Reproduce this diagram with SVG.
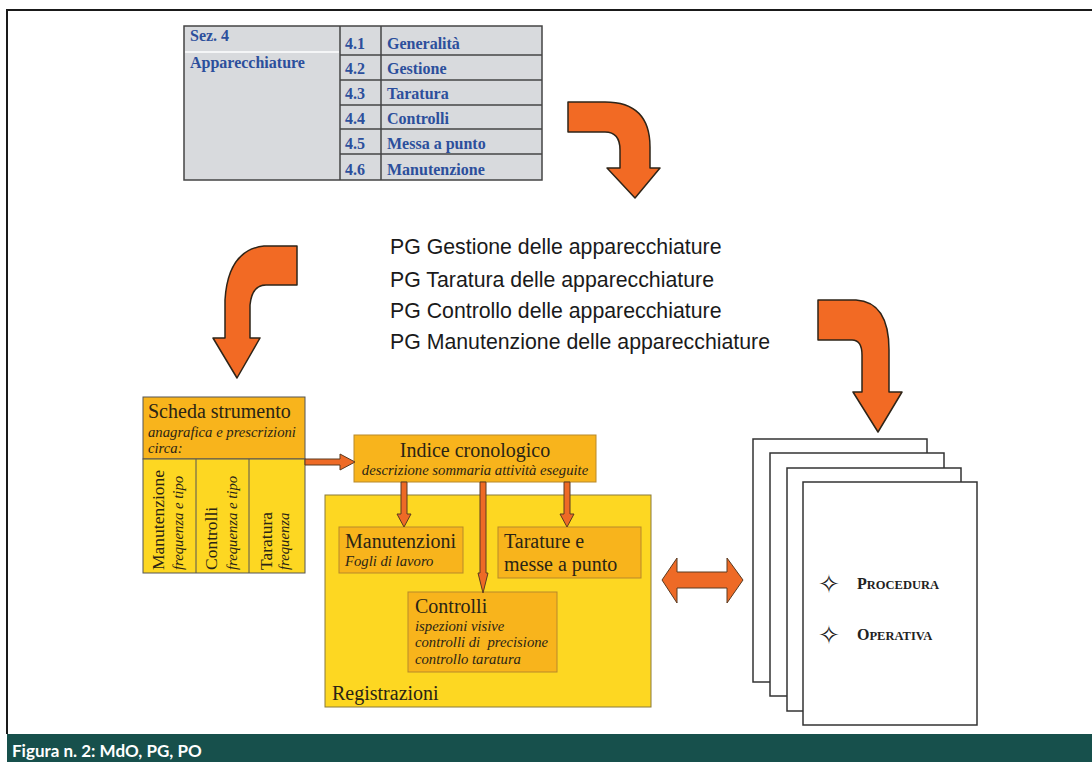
<svg xmlns="http://www.w3.org/2000/svg" width="1092" height="762" viewBox="0 0 1092 762">
<style>
.tbl{font-family:"Liberation Serif",serif;font-weight:bold;font-size:16px;fill:#2c4f9c}
.pg{font-family:"Liberation Sans",Arial,sans-serif;font-size:21.3px;fill:#1a1a1a}
.t20{font-family:"Liberation Serif",serif;font-size:20px;fill:#2a2415}
.t17{font-family:"Liberation Serif",serif;font-size:17.5px;fill:#2a2415}
.it{font-family:"Liberation Serif",serif;font-style:italic;font-size:14.7px;fill:#2a2415}
.box{fill:#f8b41c;stroke:#b8892a;stroke-width:1}
.ybox{fill:#fdd722;stroke:#8a7a3a;stroke-width:1}
.arr{fill:#f26a24;stroke:#2e2418;stroke-width:1.5;stroke-linejoin:round}
.sarr{fill:#ee6a26;stroke:#5a3a20;stroke-width:1}
.page{fill:#fff;stroke:#333;stroke-width:1.5}
.sc{font-family:"Liberation Serif",serif;font-weight:bold;fill:#222}
.bul{font-family:"DejaVu Sans",sans-serif;font-size:26px;fill:#222}
</style>
<rect width="1092" height="762" fill="#fff"/>
<path d="M7,734 V10 H1092" fill="none" stroke="#1a1a1a" stroke-width="2"/>
<g id="caption">
<rect x="7" y="734" width="1085" height="28" fill="#17504c"/>
<text x="12" y="757" font-family="Lato,'Open Sans',sans-serif" font-weight="bold" font-size="17" fill="#fff">Figura n. 2: MdO, PG, PO</text>
</g>
<g id="table">
<rect x="184" y="26" width="358" height="154" fill="#d8dadd" stroke="#444" stroke-width="1.5"/>
<line x1="185" y1="52" x2="339" y2="52" stroke="#fff" stroke-width="1.5"/>
<g stroke="#444" stroke-width="1.5">
<line x1="340" y1="26" x2="340" y2="180"/>
<line x1="381" y1="26" x2="381" y2="180"/>
<line x1="340" y1="55" x2="542" y2="55"/>
<line x1="340" y1="80" x2="542" y2="80"/>
<line x1="340" y1="105" x2="542" y2="105"/>
<line x1="340" y1="129" x2="542" y2="129"/>
<line x1="340" y1="154" x2="542" y2="154"/>
</g>
<text class="tbl" x="190" y="41">Sez. 4</text>
<text class="tbl" x="190" y="68">Apparecchiature</text>
<text class="tbl" x="345" y="49">4.1</text><text class="tbl" x="387" y="49">Generalità</text>
<text class="tbl" x="345" y="74">4.2</text><text class="tbl" x="387" y="74">Gestione</text>
<text class="tbl" x="345" y="99">4.3</text><text class="tbl" x="387" y="99">Taratura</text>
<text class="tbl" x="345" y="124">4.4</text><text class="tbl" x="387" y="124">Controlli</text>
<text class="tbl" x="345" y="149">4.5</text><text class="tbl" x="387" y="149">Messa a punto</text>
<text class="tbl" x="345" y="175">4.6</text><text class="tbl" x="387" y="175">Manutenzione</text>
</g>
<g id="pg-list">
<text class="pg" x="390" y="254">PG Gestione delle apparecchiature</text>
<text class="pg" x="390" y="287">PG Taratura delle apparecchiature</text>
<text class="pg" x="390" y="318">PG Controllo delle apparecchiature</text>
<text class="pg" x="390" y="349">PG Manutenzione delle apparecchiature</text>
</g>
<g id="scheda">
<rect x="143" y="397" width="162" height="62" fill="#f8b41c" stroke="#555" stroke-width="1"/>
<rect x="143" y="459" width="162" height="114" fill="#fdd722" stroke="#555" stroke-width="1"/>
<line x1="196" y1="459" x2="196" y2="573" stroke="#555"/>
<line x1="249" y1="459" x2="249" y2="573" stroke="#555"/>
<text class="t20" x="148" y="418">Scheda strumento</text>
<text class="it" x="148" y="437" font-size="15.3">anagrafica e prescrizioni</text>
<text class="it" x="148" y="453" font-size="15.3">circa:</text>
<text class="t17" transform="translate(164,570) rotate(-90)">Manutenzione</text>
<text class="it" transform="translate(183,570) rotate(-90)" font-size="14">frequenza e tipo</text>
<text class="t17" transform="translate(217,570) rotate(-90)">Controlli</text>
<text class="it" transform="translate(237,570) rotate(-90)" font-size="14">frequenza e tipo</text>
<text class="t17" transform="translate(272,570) rotate(-90)">Taratura</text>
<text class="it" transform="translate(289,570) rotate(-90)" font-size="14">frequenza</text>
</g>
<g id="registrazioni">
<rect x="325" y="495" width="326" height="212" class="ybox"/>
<text class="t20" x="332" y="700">Registrazioni</text>
</g>
<g id="indice">
<rect x="354" y="435" width="242" height="47" class="box"/>
<text class="t20" x="475" y="457" text-anchor="middle">Indice cronologico</text>
<text class="it" x="475" y="475" text-anchor="middle" font-size="14.5">descrizione sommaria attività eseguite</text>
</g>
<g id="manutenzioni">
<rect x="339" y="527" width="124" height="46" class="box"/>
<text class="t20" x="345" y="548">Manutenzioni</text>
<text class="it" x="345" y="566">Fogli di lavoro</text>
</g>
<g id="tarature">
<rect x="498" y="527" width="143" height="51" class="box"/>
<text class="t20" x="504" y="548">Tarature e</text>
<text class="t20" x="504" y="571">messe a punto</text>
</g>
<g id="controlli">
<rect x="408" y="592" width="149" height="80" class="box"/>
<text class="t20" x="415" y="613">Controlli</text>
<text class="it" x="415" y="631">ispezioni visive</text>
<text class="it" x="415" y="647" xml:space="preserve">controlli di  precisione</text>
<text class="it" x="415" y="664">controllo taratura</text>
</g>
<g id="documenti">
<rect x="753" y="439" width="174" height="243" class="page"/>
<rect x="770" y="453" width="174" height="243" class="page"/>
<rect x="787" y="468" width="174" height="243" class="page"/>
<rect x="803" y="482" width="174" height="243" class="page"/>
<text class="bul" x="829" y="593" text-anchor="middle">✧</text>
<text class="sc" x="857" y="589"><tspan font-size="16">P</tspan><tspan font-size="12.5">ROCEDURA</tspan></text>
<text class="bul" x="829" y="644" text-anchor="middle">✧</text>
<text class="sc" x="857" y="640"><tspan font-size="16">O</tspan><tspan font-size="12.5">PERATIVA</tspan></text>
</g>
<g id="connectors">
<path class="arr" d="M568,102 L605,102 Q650,102 650,147 L650,168 L660,168 L635,198 L607,168 L620,168 L620,150 Q620,132 605,132 L568,132 Z"/>
<path class="arr" d="M297,246 L264,246 Q228,250 225,300 L225,338 L213,338 L237,378 L260,338 L250,338 L250,305 Q252,285 266,285 L297,285 Z"/>
<path class="arr" d="M818,300 L856,300 Q889,302 889,350 L889,392 L902,392 L878,432 L853,392 L862,392 L862,355 Q862,340 852,340 L818,340 Z"/>
<path class="sarr" d="M305,459 L340,459 L340,454 L355,462 L340,470 L340,465 L305,465 Z"/>
<path class="sarr" d="M401,482 L407,482 L407,514 L411,514 L404,527 L397,514 L401,514 Z"/>
<path class="sarr" d="M564,482 L570,482 L570,514 L574,514 L567,527 L560,514 L564,514 Z"/>
<path class="sarr" d="M480,482 L486,482 L486,573 L488,573 L483,593 L478,573 L480,573 Z"/>
<path class="sarr" d="M662,580 L677,558 L677,572 L727,572 L727,558 L743,580 L727,603 L727,588 L677,588 L677,603 Z"/>
</g>
</svg>
